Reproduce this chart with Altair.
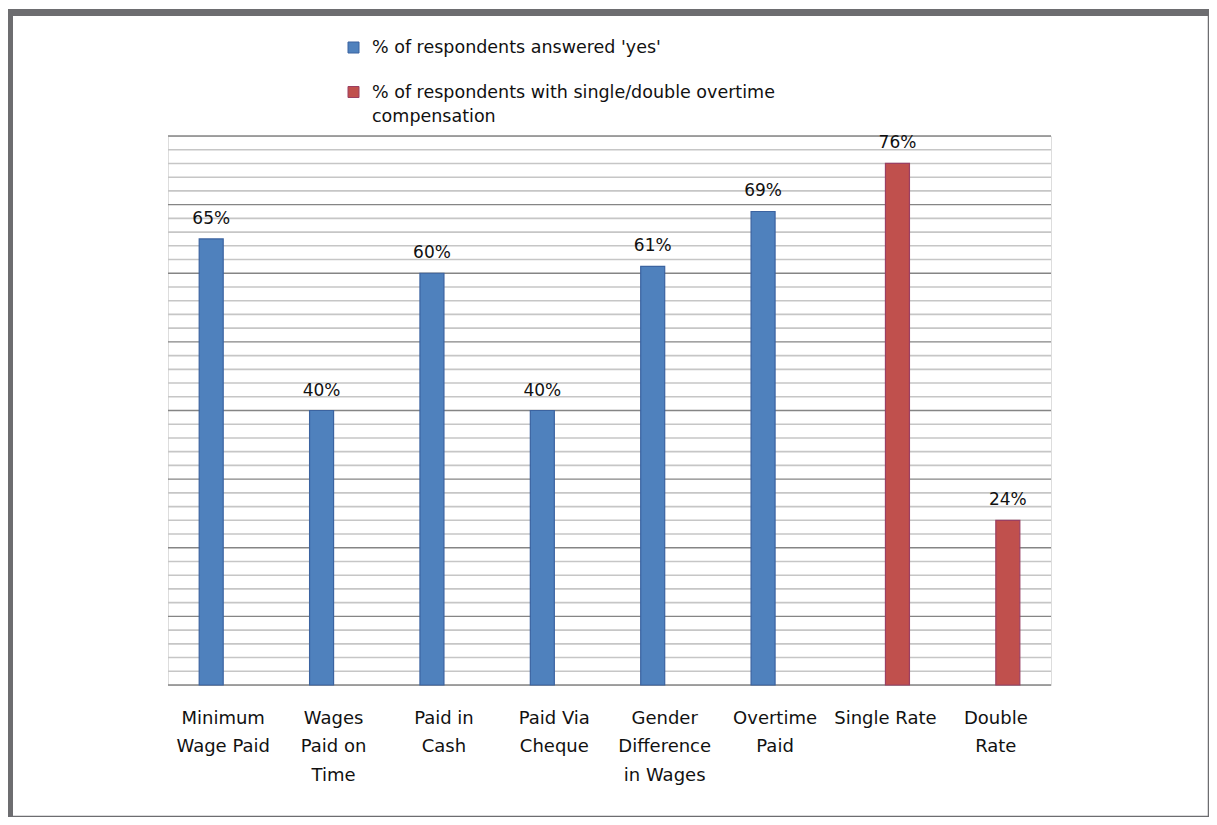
import altair as alt
import pandas as pd

# ---- data ----
categories = ["Minimum|Wage Paid", "Wages|Paid on|Time", "Paid in|Cash", "Paid Via|Cheque",
              "Gender|Difference|in Wages", "Overtime|Paid", "Single Rate", "Double|Rate"]
values = [65, 40, 60, 40, 61, 69, 76, 24]
series = ["yes", "yes", "yes", "yes", "yes", "yes", "ot", "ot"]
series_names = ["% of respondents answered 'yes'",
                "% of respondents with single/double overtime compensation"]
series_colors = ["#4f81bd", "#c0504d"]
series_strokes = ["#3b63a0", "#9b3f62"]
grid_values = list(range(0, 81, 2))

df = pd.DataFrame({"category": categories, "value": values, "series": series})
grid_df = pd.DataFrame({"g": grid_values})
grid_df["major"] = grid_df["g"] % 10 == 0

FONT = "DejaVu Sans"
W, H = 883, 549

x_enc = alt.X("category:N", sort=categories,
              scale=alt.Scale(paddingInner=0, paddingOuter=0),
              axis=alt.Axis(title=None, ticks=False, domain=False, labelAngle=0,
                            labelExpr="split(datum.label, '|')",
                            labelFont=FONT, labelFontSize=18, labelColor="#111111",
                            labelLineHeight=28.5, labelPadding=24, labelBaseline="top"))
xo_enc = alt.XOffset("series:N", scale=alt.Scale(domain=["yes", "ot"], paddingInner=0,
                                                 paddingOuter=0, range=[31.2, 79.2]))
y_scale = alt.Scale(domain=[0, 80], nice=False)

base = alt.Chart(df)

minor = alt.Chart(grid_df).transform_filter("!datum.major").mark_rule(
    color="#c6c6c6", strokeWidth=1.6).encode(y=alt.Y("g:Q", scale=y_scale, axis=None))
major = alt.Chart(grid_df).transform_filter("datum.major").mark_rule(
    color="#858585", strokeWidth=1.3).encode(y=alt.Y("g:Q", scale=y_scale, axis=None))

bars = base.mark_bar(strokeWidth=1.2).encode(
    x=x_enc, xOffset=xo_enc,
    y=alt.Y("value:Q", scale=y_scale, axis=None),
    color=alt.Color("series:N", scale=alt.Scale(domain=["yes", "ot"], range=series_colors), legend=None),
    stroke=alt.Stroke("series:N", scale=alt.Scale(domain=["yes", "ot"], range=series_strokes), legend=None),
)

labels = base.transform_calculate(lbl="datum.value + '%'").mark_text(
    font=FONT, fontSize=17, baseline="bottom", dy=-11, color="#111111").encode(
    x=x_enc, xOffset=xo_enc, y=alt.Y("value:Q", scale=y_scale, axis=None), text="lbl:N")

# ---- legend (manual) ----
one = pd.DataFrame({"a": [0]})
leg_sq1 = alt.Chart(one).mark_square(size=121, color=series_colors[0], stroke=series_strokes[0],
                                     strokeWidth=1, opacity=1).encode(x=alt.value(185.5), y=alt.value(-88.5))
leg_sq2 = alt.Chart(one).mark_square(size=121, color=series_colors[1], stroke=series_strokes[1],
                                     strokeWidth=1, opacity=1).encode(x=alt.value(185.5), y=alt.value(-44))
leg_t1 = alt.Chart(one).mark_text(text=series_names[0], font=FONT, fontSize=17.5, align="left",
                                  baseline="alphabetic", color="#111111").encode(
    x=alt.value(204), y=alt.value(-83))
leg_t2 = alt.Chart(one).mark_text(text=["% of respondents with single/double overtime", "compensation"],
                                  font=FONT, fontSize=17.5, align="left", baseline="alphabetic",
                                  lineHeight=24, color="#111111").encode(
    x=alt.value(204), y=alt.value(-38))

# ---- outer frame ----
FR = "#6d6d70"
fr_top = alt.Chart(one).mark_rule(color=FR, strokeWidth=7).encode(
    x=alt.value(-162), x2=alt.value(1041), y=alt.value(-123.5))
fr_left = alt.Chart(one).mark_rule(color=FR, strokeWidth=7).encode(
    x=alt.value(-158.5), y=alt.value(-127), y2=alt.value(681))
fr_right = alt.Chart(one).mark_rule(color=FR, strokeWidth=1.5).encode(
    x=alt.value(1040.5), y=alt.value(-127), y2=alt.value(681))
fr_bot = alt.Chart(one).mark_rule(color=FR, strokeWidth=1.5).encode(
    x=alt.value(-160), x2=alt.value(1041), y=alt.value(680.5))

chart = alt.layer(minor, major, bars, labels, leg_sq1, leg_sq2, leg_t1, leg_t2,
                  fr_top, fr_left, fr_right, fr_bot).properties(
    width=W, height=H,
    autosize=alt.AutoSizeParams(type="none"),
    padding={"left": 160, "top": 128, "right": 158, "bottom": 132},
).configure_view(fill="#e6e6e6", stroke=None).configure(background="white")

chart.save("out.html", embed_options={"renderer": "svg", "actions": False})
